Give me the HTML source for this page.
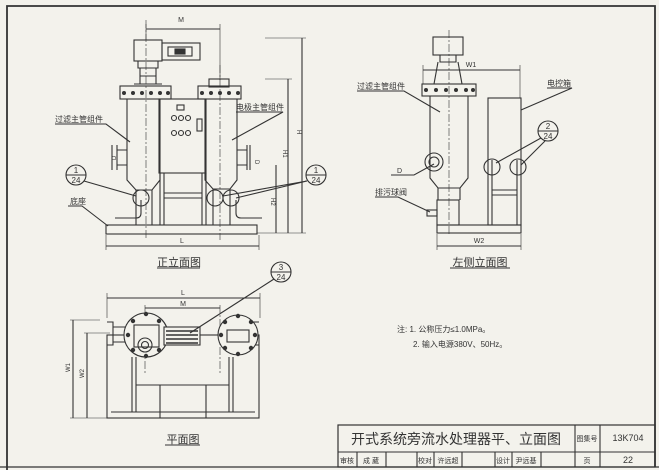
<!DOCTYPE html>
<html><head><meta charset="utf-8"><style>
html,body{margin:0;padding:0;background:#f3f2ec;}
svg{display:block}
text{font-family:"Liberation Sans","Noto Sans CJK SC",sans-serif;fill:#333}
</style></head><body>
<svg width="659" height="470" viewBox="0 0 659 470" xmlns="http://www.w3.org/2000/svg">
<rect width="659" height="470" fill="#f3f2ec"/>
<g fill="none" stroke="#333" stroke-width="1.1">
<path d="M7 470 V6 H655 V467" stroke-width="1.8"/>
<path d="M0 467 H659" stroke-width="1.2"/>
<rect x="338" y="425" width="317" height="42" stroke-width="1.2"/>
<line x1="338" y1="452" x2="655" y2="452"/>
<line x1="575" y1="425" x2="575" y2="467"/>
<line x1="600" y1="425" x2="600" y2="467"/>
<line x1="357" y1="452" x2="357" y2="467"/><line x1="386" y1="452" x2="386" y2="467"/>
<line x1="417" y1="452" x2="417" y2="467"/><line x1="434" y1="452" x2="434" y2="467"/>
<line x1="462" y1="452" x2="462" y2="467"/><line x1="495" y1="452" x2="495" y2="467"/>
<line x1="512" y1="452" x2="512" y2="467"/><line x1="541" y1="452" x2="541" y2="467"/>

<line x1="146" y1="29" x2="220" y2="29"/><line x1="146" y1="24" x2="146" y2="40" stroke-width=".6"/><line x1="220" y1="24" x2="220" y2="80" stroke-width=".6"/>
<rect x="134" y="40" width="28" height="21"/>
<rect x="162" y="43" width="38" height="17"/>
<rect x="168" y="47" width="24" height="9"/><rect x="175" y="49" width="10" height="5" fill="#333"/>
<path d="M138 61 H158 V68 H138Z M140 68 V84 M156 68 V84 M140 76 H156 M134 84 H162"/>
<rect x="120" y="86" width="51" height="13"/>
<path d="M127 99 V180 L136 190 H152 L160 180 V99"/>
<path d="M136 190 V225 M152 190 V225"/>
<rect x="209" y="79" width="20" height="8"/>
<rect x="198" y="86" width="43" height="13"/>
<path d="M205 99 V180 L213 189 H230 L237 180 V99"/>
<path d="M213 189 V225 M230 189 V225"/>
<rect x="159" y="99" width="47" height="74"/>
<rect x="177" y="105" width="7" height="5"/>
<circle cx="174" cy="118" r="2.5"/><circle cx="181" cy="118" r="2.5"/><circle cx="188" cy="118" r="2.5"/>
<circle cx="174" cy="133" r="2.5"/><circle cx="181" cy="133" r="2.5"/><circle cx="188" cy="133" r="2.5"/>
<rect x="197" y="119" width="5" height="12"/>
<path d="M160 173 V225 M206 173 V225 M164 173 V225 M202 173 V225 M164 193 H202 M164 198 H202"/>
<rect x="106" y="225" width="151" height="9"/>
<path d="M117 150 H127 M117 165 H127 M112 145 V170 M117 145 V170 M237 150 H247 M237 165 H247 M250 145 V170 M247 145 V170"/>
<path d="M141 200 V213 Q141 218 136 218 H115 M236 200 V213 Q236 218 241 218 H262"/>
<circle cx="141" cy="198" r="8"/><circle cx="215" cy="198" r="8"/><circle cx="231" cy="198" r="8"/>
<g stroke-dasharray="8 2 2 2" stroke-width=".6"><line x1="146" y1="20" x2="146" y2="240"/><line x1="220" y1="65" x2="220" y2="240"/></g>
<line x1="302" y1="38" x2="302" y2="233"/><line x1="265" y1="38" x2="306" y2="38" stroke-width=".6"/>
<line x1="288" y1="79" x2="288" y2="233"/><line x1="265" y1="79" x2="292" y2="79" stroke-width=".6"/>
<line x1="276" y1="165" x2="276" y2="233"/><line x1="257" y1="233" x2="306" y2="233" stroke-width=".6"/>
<line x1="106" y1="246" x2="259" y2="246"/><line x1="106" y1="235" x2="106" y2="250" stroke-width=".6"/><line x1="259" y1="235" x2="259" y2="250" stroke-width=".6"/>
<circle cx="76" cy="175" r="10"/><line x1="66" y1="175" x2="86" y2="175"/>
<circle cx="316" cy="175" r="10"/><line x1="306" y1="175" x2="326" y2="175"/>
<path d="M84 181 L136 196 M307 181 L223 196 M307 181 L236 198"/>
<path d="M55 124 H106 L130 142 M236 112 H283 L232 140 M68 206 H82 L108 226"/>
<line x1="157" y1="268" x2="200" y2="268"/>

<rect x="433" y="37" width="30" height="18"/>
<path d="M440 55 V62 H456 V55 M438 62 L434 84 M458 62 L462 84"/>
<line x1="423" y1="70" x2="520" y2="70"/><line x1="423" y1="65" x2="423" y2="84" stroke-width=".6"/><line x1="520" y1="65" x2="520" y2="98" stroke-width=".6"/>
<rect x="422" y="84" width="54" height="12"/>
<path d="M430 96 V178 L438 188 H460 L468 178 V96"/>
<path d="M438 188 V200 M460 188 V200"/>
<rect x="437" y="200" width="22" height="25"/>
<rect x="427" y="210" width="10" height="6"/>
<circle cx="434" cy="162" r="9"/><circle cx="434" cy="162" r="5"/>
<rect x="488" y="98" width="33" height="127"/>
<path d="M492 160 V225 M517 160 V225 M492 190 H517 M492 195 H517"/>
<circle cx="492" cy="167" r="8"/><circle cx="518" cy="167" r="8"/>
<rect x="437" y="225" width="84" height="8"/>
<line x1="437" y1="246" x2="521" y2="246"/><line x1="437" y1="234" x2="437" y2="250" stroke-width=".6"/><line x1="521" y1="234" x2="521" y2="250" stroke-width=".6"/>
<line x1="449" y1="30" x2="449" y2="235" stroke-dasharray="8 2 2 2" stroke-width=".6"/>
<path d="M357 91 H404 L440 112 M547 88 H572 L521 110 M391 175 H414 L434 164 M375 197 H398 L430 212"/>
<circle cx="548" cy="131" r="10"/><line x1="538" y1="131" x2="558" y2="131"/>
<path d="M541 138 L496 163 M545 141 L521 165"/>
<line x1="450" y1="268" x2="510" y2="268"/>

<line x1="107" y1="298" x2="260" y2="298"/><line x1="107" y1="293" x2="107" y2="318" stroke-width=".6"/><line x1="260" y1="293" x2="260" y2="318" stroke-width=".6"/>
<line x1="145" y1="308" x2="220" y2="308"/><line x1="145" y1="305" x2="145" y2="375" stroke-width=".6" stroke-dasharray="8 2 2 2"/><line x1="220" y1="305" x2="220" y2="375" stroke-width=".6" stroke-dasharray="8 2 2 2"/>
<line x1="73" y1="320" x2="73" y2="418"/><line x1="70" y1="320" x2="100" y2="320" stroke-width=".6"/>
<line x1="87" y1="333" x2="87" y2="418"/><line x1="84" y1="333" x2="110" y2="333" stroke-width=".6"/>
<line x1="70" y1="418" x2="110" y2="418" stroke-width=".6"/>
<rect x="107" y="335" width="152" height="83"/>
<line x1="111" y1="412" x2="255" y2="412"/>
<path d="M132 357 V412 M136 357 V412 M233 357 V412 M229 357 V412 M136 385 H229 M160 385 V418 M206 385 V418"/>
<path d="M107 322 H113 V345 H107 M259 322 H253 V345 H259 M113 327 H125 M113 342 H125 M253 327 H240 M253 342 H240"/>
<circle cx="146" cy="335" r="22" fill="#f3f2ec"/>
<rect x="134" y="325" width="25" height="22"/>
<circle cx="145" cy="345" r="7"/><circle cx="145" cy="345" r="3.5"/>
<circle cx="238" cy="335" r="20" fill="#f3f2ec"/>
<rect x="227" y="330" width="22" height="12"/>
<rect x="164" y="327" width="36" height="18" fill="#f3f2ec"/>
<path d="M166 331 H198 M166 335 H198 M166 339 H198 M166 343 H198" stroke-width="1.6"/>
<circle cx="281" cy="272" r="10"/><line x1="271" y1="272" x2="291" y2="272"/>
<line x1="274" y1="279" x2="190" y2="333"/>
<line x1="165" y1="445" x2="200" y2="445"/>
</g>
<g fill="#333">
<circle cx="124" cy="93" r="2"/><circle cx="133" cy="93" r="2"/><circle cx="142" cy="93" r="2"/><circle cx="151" cy="93" r="2"/><circle cx="160" cy="93" r="2"/><circle cx="168" cy="93" r="2"/>
<circle cx="202" cy="93" r="2"/><circle cx="211" cy="93" r="2"/><circle cx="220" cy="93" r="2"/><circle cx="229" cy="93" r="2"/><circle cx="238" cy="93" r="2"/>
<circle cx="426" cy="90" r="2"/><circle cx="436" cy="90" r="2"/><circle cx="446" cy="90" r="2"/><circle cx="456" cy="90" r="2"/><circle cx="466" cy="90" r="2"/><circle cx="473" cy="90" r="2"/>
<circle cx="133" cy="321" r="2.2"/><circle cx="128" cy="335" r="2.2"/><circle cx="133" cy="350" r="2.2"/><circle cx="146" cy="356" r="2.2"/><circle cx="159" cy="350" r="2.2"/><circle cx="146" cy="314" r="2.2"/><circle cx="159" cy="321" r="2.2"/>
<circle cx="225" cy="322" r="2.2"/><circle cx="238" cy="316" r="2.2"/><circle cx="251" cy="322" r="2.2"/><circle cx="255" cy="335" r="2.2"/><circle cx="251" cy="348" r="2.2"/><circle cx="238" cy="354" r="2.2"/><circle cx="225" cy="348" r="2.2"/><circle cx="221" cy="335" r="2.2"/>
</g>
<g font-size="7">
<text x="181" y="22" text-anchor="middle">M</text>
<text x="183" y="295" text-anchor="middle">L</text>
<text x="183" y="306" text-anchor="middle">M</text>
<text x="182" y="243" text-anchor="middle">L</text>
<text x="471" y="67" text-anchor="middle">W1</text>
<text x="479" y="243" text-anchor="middle">W2</text>
<text x="397" y="173">D</text>
</g>
<g font-size="8">
<text x="55" y="122">过滤主管组件</text>
<text x="236" y="110">电极主管组件</text>
<text x="70" y="204">底座</text>
<text x="357" y="89">过滤主管组件</text>
<text x="547" y="86">电控箱</text>
<text x="375" y="195">排污球阀</text>
<text x="397" y="332">注: 1. 公称压力≤1.0MPa。</text>
<text x="413" y="347">2. 输入电源380V、50Hz。</text>
</g>
<g font-size="8" text-anchor="middle">
<text x="76" y="173">1</text><text x="76" y="183">24</text>
<text x="316" y="173">1</text><text x="316" y="183">24</text>
<text x="548" y="129">2</text><text x="548" y="139">24</text>
<text x="281" y="270">3</text><text x="281" y="280">24</text>
</g>
<g font-size="11" text-anchor="middle">
<text x="179" y="266">正立面图</text>
<text x="480" y="266">左侧立面图</text>
<text x="183" y="443">平面图</text>
</g>
<text x="456" y="444" font-size="14" text-anchor="middle">开式系统旁流水处理器平、立面图</text>
<g font-size="7" text-anchor="middle">
<text x="587" y="441">图集号</text><text x="628" y="441" font-size="9">13K704</text>
<text x="587" y="463">页</text><text x="628" y="463" font-size="9">22</text>
<text x="347" y="463">审核</text><text x="371" y="463">成 葳</text>
<text x="425" y="463">校对</text><text x="448" y="463">许远超</text>
<text x="503" y="463">设计</text><text x="526" y="463">尹远基</text>
</g>
<g font-size="6" fill="#333">
<text x="116" y="160" transform="rotate(-90 116 160)">D</text>
<text x="255" y="160" transform="rotate(90 255 160)">D</text>
<text x="283" y="150" transform="rotate(90 283 150)">H1</text>
<text x="297" y="130" transform="rotate(90 297 130)">H</text>
<text x="271" y="198" transform="rotate(90 271 198)">H2</text>
<text x="70" y="372" transform="rotate(-90 70 372)">W1</text>
<text x="84" y="378" transform="rotate(-90 84 378)">W2</text>
</g>
</svg>
</body></html>
